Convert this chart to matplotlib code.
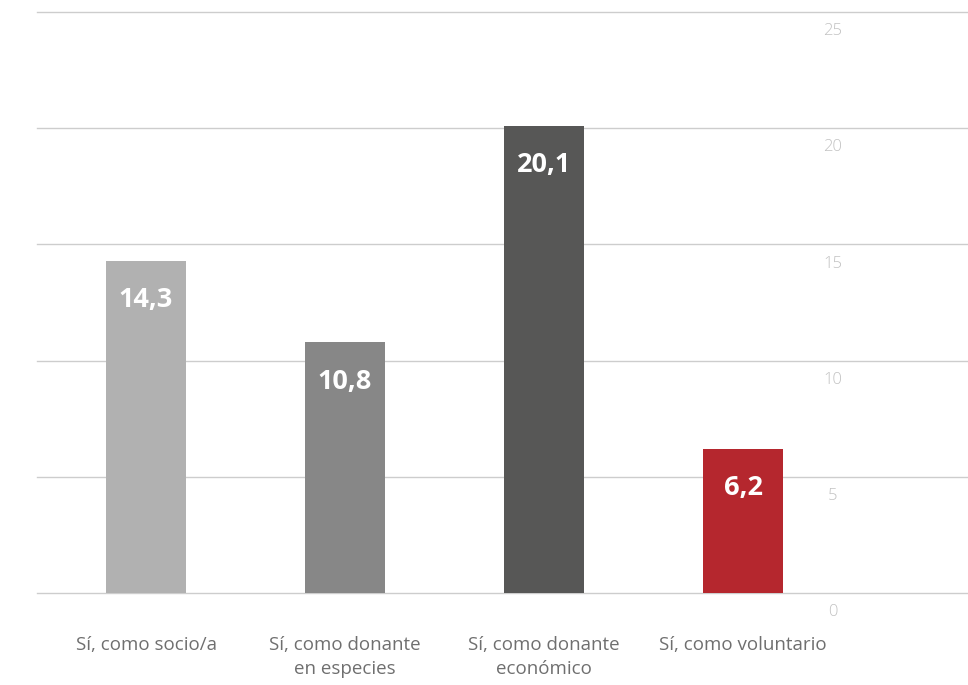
import matplotlib
matplotlib.use("Agg")
import matplotlib.pyplot as plt

categories = ["Sí, como socio/a", "Sí, como donante\nen especies", "Sí, como donante\neconómico", "Sí, como voluntario"]
values = [14.3, 10.8, 20.1, 6.2]
value_labels = ["14,3", "10,8", "20,1", "6,2"]
colors = ["#b1b1b1", "#878787", "#575756", "#b5272e"]
yticks = [0, 5, 10, 15, 20, 25]

plt.rcParams['font.family'] = ['Open Sans', 'DejaVu Sans']

fig = plt.figure(figsize=(9.68, 6.85), dpi=100)
ax = fig.add_axes([37/968, 92/685, 931/968, 581/685])
x = list(range(len(values)))
ax.bar(x, values, width=0.40, color=colors, zorder=3)
ax.set_xlim(-0.548, 4.13)
ax.set_ylim(0, 25)
for s in ax.spines.values():
    s.set_visible(False)
ax.set_xticks([])
ax.set_yticks([])
for t in yticks:
    ax.axhline(t, color="#cdcdcd", lw=1.0, zorder=1, clip_on=False)
    ax.annotate(str(t), (3.45, t), xytext=(0, -8), textcoords="offset points",
                ha="center", va="top", fontsize=12, color="#c2c2c2",
                fontweight="light")
for xi, v, lab in zip(x, values, value_labels):
    ax.annotate(lab, (xi, v), xytext=(0, -28.5), textcoords="offset points",
                ha="center", va="center", fontsize=19.5, color="white",
                fontweight="bold", zorder=4)
for xi, c in zip(x, categories):
    ax.annotate(c, (xi, 0), xytext=(0, -31), textcoords="offset points",
                ha="center", va="top", fontsize=13.5, color="#6f6f6f",
                linespacing=1.45)
fig.savefig("out.png", dpi=100)
